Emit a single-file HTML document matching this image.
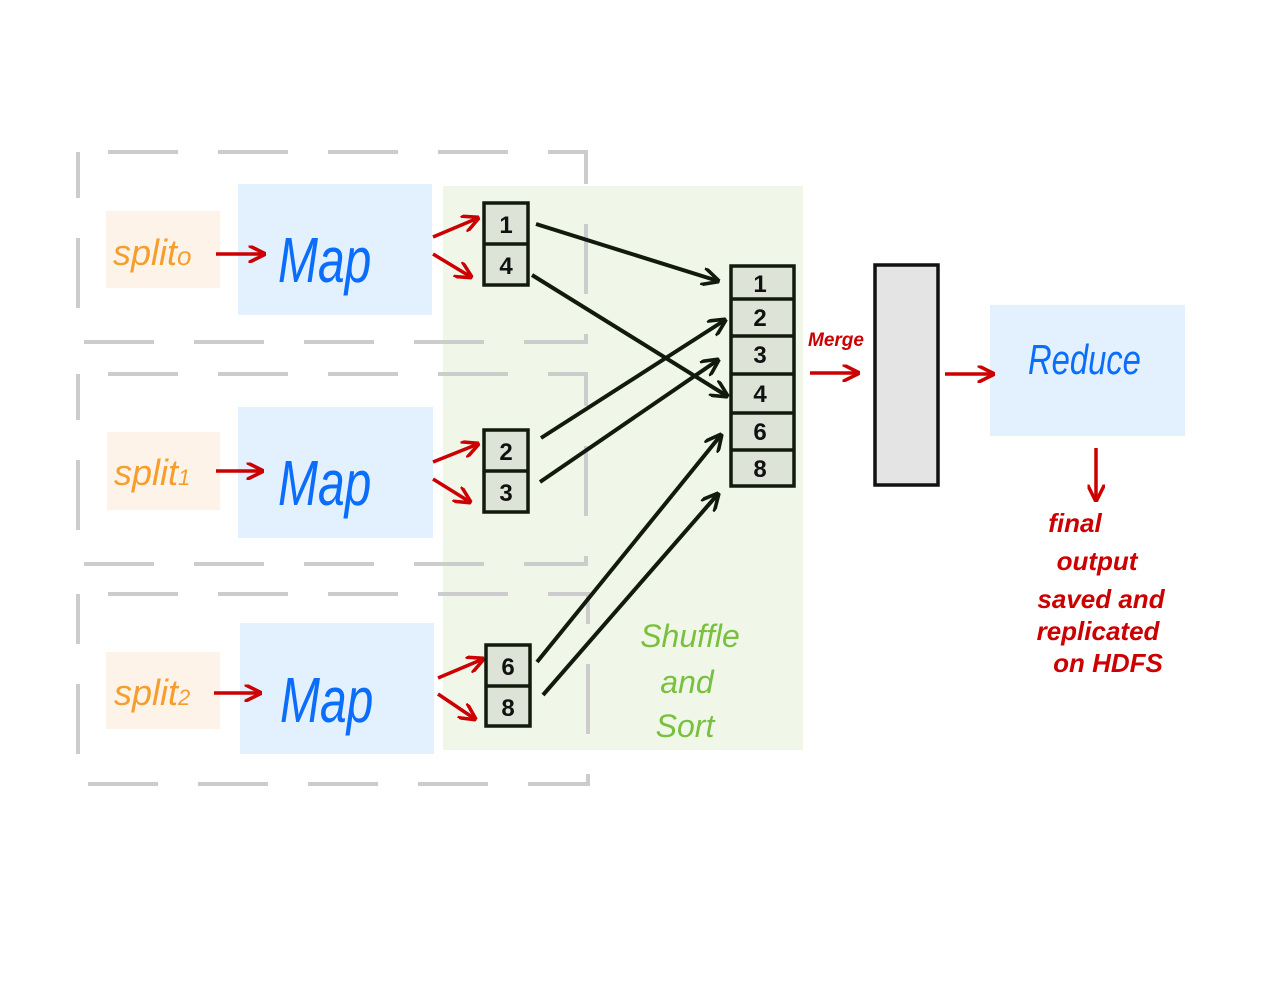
<!DOCTYPE html>
<html><head><meta charset="utf-8"><style>
html,body{margin:0;padding:0;background:#fff;width:1284px;height:1000px;overflow:hidden}
svg{display:block}
text{font-family:"Liberation Sans",sans-serif}
</style></head><body>
<svg width="1284" height="1000" viewBox="0 0 1284 1000" xmlns="http://www.w3.org/2000/svg">
<defs>
<marker id="ar" viewBox="0 0 10 10" refX="9" refY="5" markerWidth="5" markerHeight="5" orient="auto"><path d="M0,0 L10,5 L0,10" fill="none" stroke="#cc0000" stroke-width="2"/></marker>
<marker id="ak" viewBox="0 0 10 10" refX="9" refY="5" markerWidth="4.5" markerHeight="4.5" orient="auto"><path d="M0,0 L10,5 L0,10" fill="none" stroke="#111a0c" stroke-width="2"/></marker>
</defs>
<rect x="443" y="186" width="360" height="564" fill="#f0f7e8"/>
<g fill="none" stroke="#cccccc" stroke-width="4" stroke-dasharray="70,40" stroke-dashoffset="-30">
<rect x="78" y="152" width="508" height="190"/>
<rect x="78" y="374" width="508" height="190"/>
<rect x="78" y="594" width="510" height="190"/>
</g>
<rect x="106" y="211" width="114" height="77" fill="#fef3e8"/>
<rect x="107" y="432" width="113" height="78" fill="#fef3e8"/>
<rect x="106" y="652" width="114" height="77" fill="#fef3e8"/>
<rect x="238" y="184" width="194" height="131" fill="#e3f0fd"/>
<rect x="238" y="407" width="195" height="131" fill="#e3f0fd"/>
<rect x="240" y="623" width="194" height="131" fill="#e3f0fd"/>
<rect x="990" y="305" width="195" height="131" fill="#e3f0fd"/>
<g font-style="italic" fill="#f59e2c" font-size="36">
<text x="113" y="265">split<tspan font-size="26">o</tspan></text>
<text x="114" y="485">split<tspan font-size="22">1</tspan></text>
<text x="114" y="705">split<tspan font-size="22">2</tspan></text>
</g>
<g font-style="italic" fill="#0a6dfb" font-size="64">
<text transform="translate(278,282) scale(0.75,1)">Map</text>
<text transform="translate(278,505) scale(0.75,1)">Map</text>
<text transform="translate(280,722) scale(0.75,1)">Map</text>
</g>
<text transform="translate(1028,374) scale(0.78,1)" font-style="italic" fill="#0a6dfb" font-size="42">Reduce</text>
<g stroke="#cc0000" stroke-width="3.5" fill="none" marker-end="url(#ar)">
<line x1="216" y1="254" x2="264" y2="254"/>
<line x1="216" y1="471" x2="262" y2="471"/>
<line x1="214" y1="693" x2="260" y2="693"/>
<line x1="433" y1="237" x2="478" y2="218"/>
<line x1="433" y1="254" x2="471" y2="277"/>
<line x1="433" y1="462" x2="478" y2="444"/>
<line x1="433" y1="479" x2="470" y2="502"/>
<line x1="438" y1="678" x2="483" y2="659"/>
<line x1="438" y1="694" x2="475" y2="719"/>
<line x1="810" y1="373" x2="858" y2="373"/>
<line x1="945" y1="374" x2="993" y2="374"/>
<line x1="1096" y1="448" x2="1096" y2="500"/>
</g>
<g stroke="#111a0c" stroke-width="3.5" fill="#dde3d6">
<rect x="484" y="203" width="44" height="82"/><line x1="484" y1="244" x2="528" y2="244"/>
<rect x="484" y="430" width="44" height="82"/><line x1="484" y1="471" x2="528" y2="471"/>
<rect x="486" y="645" width="44" height="81"/><line x1="486" y1="686" x2="530" y2="686"/>
<rect x="731" y="266" width="63" height="220"/>
<line x1="731" y1="299" x2="794" y2="299"/><line x1="731" y1="336" x2="794" y2="336"/>
<line x1="731" y1="374" x2="794" y2="374"/><line x1="731" y1="413" x2="794" y2="413"/>
<line x1="731" y1="450" x2="794" y2="450"/>
</g>
<rect x="875" y="265" width="63" height="220" fill="#e4e4e4" stroke="#111" stroke-width="3.5"/>
<g font-weight="bold" font-size="24" fill="#111" text-anchor="middle">
<text x="506" y="233">1</text><text x="506" y="274">4</text>
<text x="506" y="460">2</text><text x="506" y="501">3</text>
<text x="508" y="675">6</text><text x="508" y="716">8</text>
<text x="760" y="292">1</text><text x="760" y="326">2</text><text x="760" y="363">3</text>
<text x="760" y="402">4</text><text x="760" y="440">6</text><text x="760" y="477">8</text>
</g>
<g stroke="#111a0c" stroke-width="4" fill="none" marker-end="url(#ak)">
<line x1="536" y1="224" x2="718" y2="281"/>
<line x1="532" y1="275" x2="727" y2="396"/>
<line x1="541" y1="438" x2="725" y2="320"/>
<line x1="540" y1="482" x2="718" y2="360"/>
<line x1="537" y1="662" x2="721" y2="435"/>
<line x1="543" y1="695" x2="718" y2="494"/>
</g>
<text x="808" y="346" font-style="italic" font-weight="bold" fill="#cc0000" font-size="19">Merge</text>
<g font-style="italic" fill="#79c03e" font-size="32" text-anchor="middle">
<text x="690" y="647">Shuffle</text>
<text x="687" y="693">and</text>
<text x="685" y="737">Sort</text>
</g>
<g font-style="italic" font-weight="bold" fill="#cc0000" font-size="26" text-anchor="middle">
<text x="1075" y="532">final</text>
<text x="1097" y="570">output</text>
<text x="1101" y="608">saved and</text>
<text x="1098" y="640">replicated</text>
<text x="1108" y="672">on HDFS</text>
</g>
</svg>
</body></html>
